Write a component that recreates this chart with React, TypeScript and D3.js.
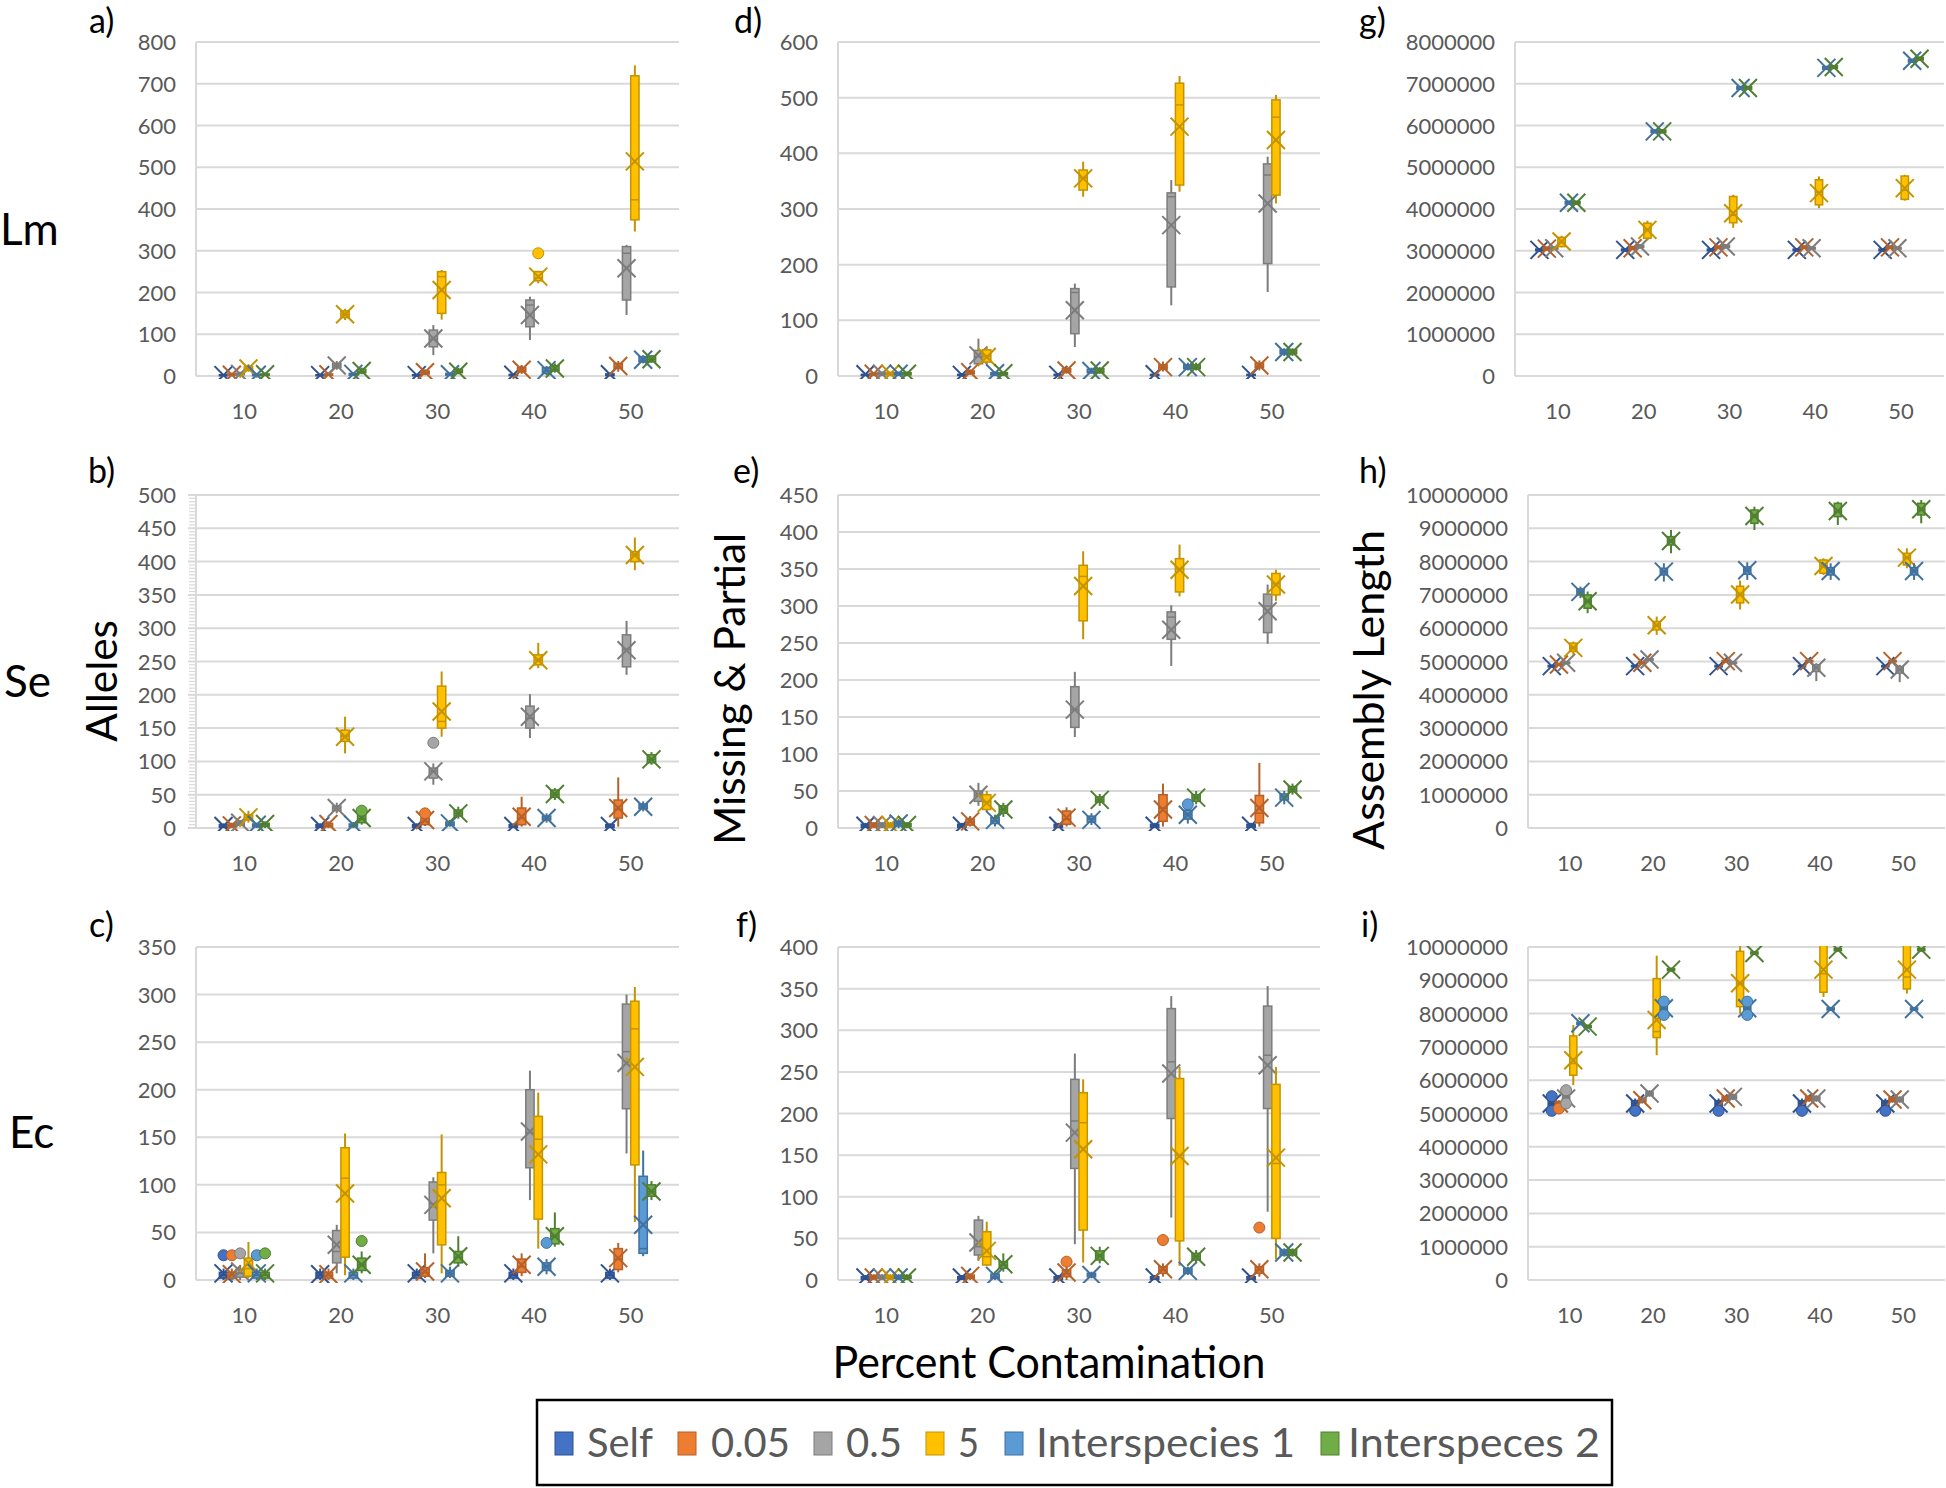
import React from "react";
import * as d3 from "d3";

// [min, q1, median, q3, max, mean]
type Box = [number, number, number, number, number, number];
type Outlier = [number, number, number]; // [seriesIndex, categoryIndex, value]

const categories = ["10", "20", "30", "40", "50"];
const seriesNames = ["Self", "0.05", "0.5", "5", "Interspecies 1", "Interspeces 2"];
const seriesFill = ["#4472C4", "#ED7D31", "#A5A5A5", "#FFC000", "#5B9BD5", "#70AD47"];
const seriesStroke = ["#2F528F", "#B4612A", "#7C7C7C", "#C49300", "#41719C", "#507E32"];

const ticksA = [0, 100, 200, 300, 400, 500, 600, 700, 800];
const ticksB = [0, 50, 100, 150, 200, 250, 300, 350, 400, 450, 500];
const ticksC = [0, 50, 100, 150, 200, 250, 300, 350];
const ticksD = [0, 100, 200, 300, 400, 500, 600];
const ticksE = [0, 50, 100, 150, 200, 250, 300, 350, 400, 450];
const ticksF = [0, 50, 100, 150, 200, 250, 300, 350, 400];
const ticksG = [0, 1000000, 2000000, 3000000, 4000000, 5000000, 6000000, 7000000, 8000000];
const ticksH = [0, 1000000, 2000000, 3000000, 4000000, 5000000, 6000000, 7000000, 8000000, 9000000, 10000000];
const ticksI = [0, 1000000, 2000000, 3000000, 4000000, 5000000, 6000000, 7000000, 8000000, 9000000, 10000000];

// a) Lm – Alleles
const lmAlleles: Box[][] = [
  [[0,1,2,3,5,2],[0,1,2,3,5,2],[0,1,2,3,5,2],[0,1,2,4,6,3],[0,1,3,5,8,4]],
  [[0,2,3,5,8,3],[0,2,3,5,8,4],[2,5,8,12,16,9],[5,10,14,20,26,15],[10,18,22,30,36,24]],
  [[0,3,5,7,10,5],[15,20,25,30,36,25],[50,70,88,110,122,90],[86,118,170,182,190,146],[146,182,294,310,314,258]],
  [[10,14,18,22,28,18],[134,140,148,156,161,148],[135,150,238,250,254,206],[222,228,235,250,252,238],[346,374,422,719,744,514]],
  [[0,1,3,4,6,3],[0,2,4,6,8,5],[0,2,4,6,8,4],[2,6,12,20,24,14],[30,34,38,46,50,39]],
  [[0,2,3,5,8,4],[4,8,10,16,20,12],[4,8,10,16,20,10],[8,12,16,25,30,18],[32,34,40,48,50,40]],
];
const lmAllelesOut: Outlier[] = [[3, 3, 294]];

// d) Lm – Missing & Partial
const lmMissing: Box[][] = [
  [[0,1,2,3,5,3],[0,1,2,3,5,2],[0,1,2,3,5,2],[0,1,2,3,5,3],[0,1,2,3,5,2]],
  [[0,2,3,5,7,4],[2,4,6,9,12,7],[4,7,10,13,18,10],[8,12,16,20,26,16],[10,15,18,23,28,19]],
  [[0,2,4,6,8,4],[20,22,35,46,67,37],[52,76,150,157,166,118],[127,160,322,329,352,271],[151,202,361,381,394,310]],
  [[0,2,4,6,8,4],[22,25,35,47,52,34],[322,334,356,370,385,355],[331,343,487,526,539,448],[310,325,465,496,505,424]],
  [[0,2,4,6,8,4],[0,2,4,6,8,5],[4,6,8,12,15,9],[10,13,16,20,24,16],[36,40,43,47,50,43]],
  [[0,2,4,6,8,4],[0,2,4,6,8,5],[4,6,9,13,16,10],[10,13,16,20,24,16],[36,40,43,47,50,43]],
];
const lmMissingOut: Outlier[] = [];

// g) Lm – Assembly Length
const lmAssembly: Box[][] = [
  [[2.98e6,3.0e6,3.02e6,3.04e6,3.06e6,3.02e6],[2.98e6,3.0e6,3.02e6,3.04e6,3.06e6,3.02e6],[2.98e6,3.0e6,3.02e6,3.04e6,3.06e6,3.02e6],[2.98e6,3.0e6,3.02e6,3.04e6,3.06e6,3.02e6],[2.98e6,3.0e6,3.02e6,3.04e6,3.06e6,3.02e6]],
  [[3.0e6,3.03e6,3.05e6,3.08e6,3.1e6,3.05e6],[3.02e6,3.04e6,3.06e6,3.09e6,3.12e6,3.06e6],[3.04e6,3.06e6,3.08e6,3.1e6,3.13e6,3.08e6],[3.04e6,3.06e6,3.08e6,3.1e6,3.13e6,3.08e6],[3.04e6,3.06e6,3.08e6,3.1e6,3.13e6,3.08e6]],
  [[3.02e6,3.04e6,3.06e6,3.08e6,3.1e6,3.06e6],[3.05e6,3.08e6,3.1e6,3.13e6,3.16e6,3.1e6],[3.05e6,3.08e6,3.1e6,3.13e6,3.16e6,3.1e6],[3.02e6,3.04e6,3.06e6,3.08e6,3.1e6,3.06e6],[3.02e6,3.04e6,3.06e6,3.08e6,3.1e6,3.06e6]],
  [[3.08e6,3.1e6,3.2e6,3.32e6,3.36e6,3.22e6],[3.25e6,3.3e6,3.5e6,3.66e6,3.72e6,3.5e6],[3.55e6,3.67e6,3.85e6,4.3e6,4.34e6,3.9e6],[4.02e6,4.1e6,4.4e6,4.7e6,4.78e6,4.38e6],[4.2e6,4.23e6,4.45e6,4.79e6,4.82e6,4.5e6]],
  [[4.1e6,4.12e6,4.15e6,4.18e6,4.2e6,4.15e6],[5.81e6,5.83e6,5.86e6,5.89e6,5.91e6,5.86e6],[6.85e6,6.87e6,6.9e6,6.93e6,6.95e6,6.9e6],[7.33e6,7.35e6,7.38e6,7.41e6,7.43e6,7.38e6],[7.5e6,7.52e6,7.55e6,7.58e6,7.6e6,7.55e6]],
  [[4.1e6,4.12e6,4.15e6,4.18e6,4.2e6,4.15e6],[5.81e6,5.83e6,5.86e6,5.89e6,5.91e6,5.86e6],[6.85e6,6.87e6,6.9e6,6.93e6,6.95e6,6.9e6],[7.35e6,7.37e6,7.4e6,7.43e6,7.45e6,7.4e6],[7.55e6,7.57e6,7.6e6,7.63e6,7.65e6,7.6e6]],
];
const lmAssemblyOut: Outlier[] = [];

// b) Se – Alleles
const seAlleles: Box[][] = [
  [[0,1,3,5,7,3],[0,1,3,5,7,3],[0,1,3,5,7,3],[0,1,3,5,7,3],[0,1,3,5,7,3]],
  [[0,2,4,6,8,4],[0,2,4,7,10,6],[3,5,10,15,18,12],[2,5,15,30,47,17],[2,15,28,42,76,30]],
  [[2,4,7,9,12,8],[22,26,30,33,38,30],[65,75,85,90,97,85],[135,150,165,183,201,167],[230,242,268,290,311,267]],
  [[8,12,16,20,26,16],[112,130,138,147,167,137],[137,150,160,213,235,175],[240,245,252,260,278,252],[387,400,410,415,436,410]],
  [[0,2,4,6,8,5],[0,2,4,6,9,5],[2,4,6,9,12,7],[8,12,15,18,22,15],[25,29,32,36,40,32]],
  [[0,3,5,7,10,6],[5,8,14,20,24,15],[14,18,22,27,32,22],[42,46,51,57,60,51],[95,98,103,110,114,103]],
];
const seAllelesOut: Outlier[] = [[1, 2, 22], [2, 2, 128], [5, 1, 26]];

// e) Se – Missing & Partial
const seMissing: Box[][] = [
  [[0,1,3,5,7,3],[0,1,3,5,7,3],[0,1,3,5,7,3],[0,1,3,5,7,3],[0,1,3,5,7,3]],
  [[0,2,4,6,8,4],[2,4,8,12,16,9],[2,5,12,23,28,14],[2,9,27,45,60,25],[2,7,20,44,88,27]],
  [[0,2,4,6,8,4],[30,36,45,50,61,45],[123,136,160,191,211,160],[219,255,285,292,301,268],[249,264,300,316,329,293]],
  [[0,2,4,6,8,4],[22,25,35,45,50,34],[255,280,340,355,374,327],[313,319,350,364,383,349],[307,315,330,344,349,329]],
  [[0,3,6,9,12,6],[2,6,10,14,18,11],[4,8,12,16,20,11],[6,12,18,24,28,18],[32,38,42,46,50,41]],
  [[0,2,4,6,8,4],[15,20,25,30,34,25],[30,35,38,42,46,38],[32,36,41,45,50,41],[45,49,52,56,60,52]],
];
const seMissingOut: Outlier[] = [[4, 3, 32]];

// h) Se – Assembly Length
const seAssembly: Box[][] = [
  [[4.82e6,4.84e6,4.86e6,4.88e6,4.9e6,4.86e6],[4.82e6,4.84e6,4.86e6,4.88e6,4.9e6,4.86e6],[4.82e6,4.84e6,4.86e6,4.88e6,4.9e6,4.86e6],[4.82e6,4.84e6,4.86e6,4.88e6,4.9e6,4.86e6],[4.82e6,4.84e6,4.86e6,4.88e6,4.9e6,4.86e6]],
  [[4.87e6,4.89e6,4.91e6,4.93e6,4.95e6,4.91e6],[4.92e6,4.94e6,4.96e6,4.98e6,5.0e6,4.96e6],[4.97e6,4.99e6,5.01e6,5.03e6,5.05e6,5.01e6],[4.97e6,4.99e6,5.01e6,5.03e6,5.05e6,5.01e6],[4.97e6,4.99e6,5.01e6,5.03e6,5.05e6,5.01e6]],
  [[4.92e6,4.94e6,4.96e6,4.98e6,5.0e6,4.96e6],[5.02e6,5.04e6,5.06e6,5.08e6,5.1e6,5.06e6],[4.92e6,4.94e6,4.96e6,4.98e6,5.0e6,4.96e6],[4.41e6,4.7e6,4.81e6,4.9e6,4.95e6,4.81e6],[4.38e6,4.65e6,4.76e6,4.85e6,4.9e6,4.76e6]],
  [[5.2e6,5.3e6,5.41e6,5.55e6,5.6e6,5.41e6],[5.8e6,5.95e6,6.09e6,6.2e6,6.35e6,6.09e6],[6.56e6,6.76e6,7.0e6,7.26e6,7.43e6,7.01e6],[7.6e6,7.65e6,7.87e6,8.05e6,8.1e6,7.87e6],[7.8e6,7.9e6,8.12e6,8.25e6,8.4e6,8.12e6]],
  [[6.9e6,7.0e6,7.09e6,7.18e6,7.25e6,7.09e6],[7.4e6,7.6e6,7.7e6,7.8e6,7.95e6,7.7e6],[7.45e6,7.62e6,7.74e6,7.84e6,7.98e6,7.74e6],[7.45e6,7.6e6,7.72e6,7.82e6,7.95e6,7.72e6],[7.45e6,7.6e6,7.72e6,7.82e6,7.95e6,7.72e6]],
  [[6.45e6,6.6e6,6.81e6,7.0e6,7.1e6,6.81e6],[8.25e6,8.5e6,8.62e6,8.75e6,8.95e6,8.62e6],[8.95e6,9.15e6,9.37e6,9.55e6,9.65e6,9.37e6],[9.1e6,9.35e6,9.52e6,9.75e6,9.8e6,9.52e6],[9.15e6,9.4e6,9.57e6,9.75e6,9.85e6,9.57e6]],
];
const seAssemblyOut: Outlier[] = [];

// c) Ec – Alleles
const ecAlleles: Box[][] = [
  [[0,2,5,8,12,7],[0,2,5,8,12,6],[0,2,5,8,12,7],[0,2,5,8,12,7],[0,2,5,8,12,7]],
  [[0,2,5,8,12,6],[0,2,5,8,12,6],[2,4,8,13,28,9],[4,8,14,22,28,16],[8,11,22,33,39,23]],
  [[0,3,7,11,15,9],[7,18,30,52,58,37],[28,63,80,103,108,79],[84,118,155,200,220,156],[133,180,240,290,300,228]],
  [[2,4,12,23,40,18],[5,24,107,139,154,91],[7,37,100,113,153,86],[33,64,148,172,197,132],[61,121,264,293,308,224]],
  [[0,2,5,8,12,7],[0,2,5,8,12,7],[2,4,7,10,14,7],[6,10,14,18,22,14],[25,28,33,109,136,58]],
  [[0,2,5,8,12,7],[7,10,16,23,30,16],[14,18,24,30,46,25],[35,38,46,54,71,46],[84,88,93,100,104,93]],
];
const ecAllelesOut: Outlier[] = [[0, 0, 26], [1, 0, 26], [2, 0, 28], [4, 0, 26], [5, 0, 28], [5, 1, 41], [4, 3, 39]];

// f) Ec – Missing & Partial
const ecMissing: Box[][] = [
  [[0,1,2,4,6,3],[0,1,2,4,6,3],[0,1,2,4,6,3],[0,1,2,4,6,3],[0,1,2,4,6,3]],
  [[0,2,3,5,7,3],[0,2,4,6,8,5],[0,4,8,12,16,9],[4,8,12,16,20,13],[4,8,12,16,20,13]],
  [[0,2,3,5,7,3],[23,30,40,72,77,45],[43,134,191,241,272,177],[75,194,262,326,341,248],[82,206,270,329,353,258]],
  [[0,2,3,5,7,3],[17,18,28,58,70,35],[21,60,189,225,241,157],[17,47,150,242,256,149],[25,50,140,235,256,147]],
  [[0,2,3,5,7,3],[0,2,4,7,10,5],[2,4,6,8,10,6],[6,8,11,14,16,11],[28,30,33,36,38,33]],
  [[0,2,3,5,7,3],[10,14,18,22,32,19],[20,24,29,35,40,29],[20,24,28,32,36,28],[28,30,33,36,38,33]],
];
const ecMissingOut: Outlier[] = [[1, 2, 22], [1, 3, 48], [1, 4, 63]];

// i) Ec – Assembly Length
const ecAssembly: Box[][] = [
  [[5.15e6,5.22e6,5.3e6,5.38e6,5.45e6,5.3e6],[5.15e6,5.22e6,5.3e6,5.38e6,5.45e6,5.3e6],[5.15e6,5.22e6,5.3e6,5.38e6,5.45e6,5.3e6],[5.15e6,5.22e6,5.3e6,5.38e6,5.45e6,5.3e6],[5.15e6,5.22e6,5.3e6,5.38e6,5.45e6,5.3e6]],
  [[5.2e6,5.25e6,5.3e6,5.35e6,5.4e6,5.3e6],[5.3e6,5.35e6,5.4e6,5.45e6,5.5e6,5.4e6],[5.35e6,5.4e6,5.45e6,5.5e6,5.55e6,5.45e6],[5.35e6,5.4e6,5.45e6,5.5e6,5.55e6,5.45e6],[5.32e6,5.37e6,5.42e6,5.47e6,5.52e6,5.42e6]],
  [[5.35e6,5.4e6,5.45e6,5.5e6,5.55e6,5.45e6],[5.5e6,5.55e6,5.6e6,5.65e6,5.7e6,5.6e6],[5.4e6,5.45e6,5.5e6,5.55e6,5.6e6,5.5e6],[5.35e6,5.4e6,5.45e6,5.5e6,5.55e6,5.45e6],[5.32e6,5.37e6,5.42e6,5.47e6,5.52e6,5.42e6]],
  [[5.85e6,6.15e6,6.5e6,7.33e6,7.66e6,6.6e6],[6.75e6,7.28e6,7.46e6,9.05e6,9.74e6,7.81e6],[8.0e6,8.21e6,8.9e6,9.87e6,10.3e6,8.91e6],[8.5e6,8.64e6,9.2e6,10.2e6,10.5e6,9.32e6],[8.6e6,8.74e6,9.1e6,10.2e6,10.5e6,9.32e6]],
  [[7.65e6,7.68e6,7.71e6,7.74e6,7.77e6,7.71e6],[8.05e6,8.1e6,8.16e6,8.22e6,8.27e6,8.16e6],[8.05e6,8.1e6,8.16e6,8.22e6,8.27e6,8.16e6],[8.08e6,8.11e6,8.14e6,8.17e6,8.2e6,8.14e6],[8.08e6,8.11e6,8.14e6,8.17e6,8.2e6,8.14e6]],
  [[7.55e6,7.58e6,7.61e6,7.64e6,7.67e6,7.61e6],[9.26e6,9.29e6,9.32e6,9.35e6,9.38e6,9.32e6],[9.76e6,9.79e6,9.82e6,9.85e6,9.88e6,9.82e6],[9.86e6,9.89e6,9.92e6,9.95e6,9.98e6,9.92e6],[9.86e6,9.89e6,9.92e6,9.95e6,9.98e6,9.92e6]],
];
const ecAssemblyOut: Outlier[] = [
  [0, 0, 5.08e6], [0, 0, 5.52e6], [0, 1, 5.08e6], [0, 2, 5.08e6], [0, 3, 5.08e6], [0, 4, 5.08e6],
  [1, 0, 5.15e6], [2, 0, 5.7e6], [2, 0, 5.3e6],
  [4, 1, 8.36e6], [4, 1, 7.96e6], [4, 2, 8.36e6], [4, 2, 7.96e6],
];

const FONT = "Lato, 'Open Sans', 'DejaVu Sans', sans-serif";
const AXIS_GRAY = "#595959";
const GRID = "#D9D9D9";

type PanelSpec = {
  id: string;
  letter: string;
  lx: number;
  ly: number;
  left: number;
  right: number;
  top: number;
  zero: number;
  ticks: number[];
  data: Box[][];
  outliers: Outlier[];
  minor?: boolean;
};

const COL1 = { left: 196, right: 679 };
const COL2 = { left: 838, right: 1320 };
const ROW1 = { top: 42, zero: 376 };
const ROW2 = { top: 495, zero: 828 };
const ROW3 = { top: 947, zero: 1280 };

const panels: PanelSpec[] = [
  { id: "a", letter: "a)", lx: 89, ly: 33, ...COL1, ...ROW1, ticks: ticksA, data: lmAlleles, outliers: lmAllelesOut },
  { id: "b", letter: "b)", lx: 88, ly: 483, ...COL1, ...ROW2, ticks: ticksB, data: seAlleles, outliers: seAllelesOut, minor: true },
  { id: "c", letter: "c)", lx: 89, ly: 937, ...COL1, ...ROW3, ticks: ticksC, data: ecAlleles, outliers: ecAllelesOut },
  { id: "d", letter: "d)", lx: 734, ly: 33, ...COL2, ...ROW1, ticks: ticksD, data: lmMissing, outliers: lmMissingOut },
  { id: "e", letter: "e)", lx: 733, ly: 483, ...COL2, ...ROW2, ticks: ticksE, data: seMissing, outliers: seMissingOut },
  { id: "f", letter: "f)", lx: 736, ly: 937, ...COL2, ...ROW3, ticks: ticksF, data: ecMissing, outliers: ecMissingOut },
  { id: "g", letter: "g)", lx: 1359, ly: 33, left: 1515, right: 1944, ...ROW1, ticks: ticksG, data: lmAssembly, outliers: lmAssemblyOut },
  { id: "h", letter: "h)", lx: 1359, ly: 483, left: 1528, right: 1945, ...ROW2, ticks: ticksH, data: seAssembly, outliers: seAssemblyOut },
  { id: "i", letter: "i)", lx: 1361, ly: 937, left: 1528, right: 1945, ...ROW3, ticks: ticksI, data: ecAssembly, outliers: ecAssemblyOut },
];

function Panel({ p }: { p: PanelSpec }) {
  const x = d3.scaleBand<string>().domain(categories).range([p.left, p.right]).paddingInner(0).paddingOuter(0);
  const yMax = p.ticks[p.ticks.length - 1];
  const y = d3.scaleLinear().domain([0, yMax]).range([p.zero, p.top]);
  const bw = x.bandwidth();
  const step = bw * 0.086;
  const boxW = step;
  const fmt = d3.format("d");
  const clipId = `clip-${p.id}`;
  const cx = (si: number, ci: number) => (x(categories[ci]) as number) + bw / 2 + (si - 2.5) * step;
  const minorTicks = p.minor ? d3.range(0, yMax + 0.001, 5) : [];
  const M = 9;

  return (
    <g>
      <defs>
        <clipPath id={clipId}>
          <rect x={p.left - 10} y={p.top - 1} width={p.right - p.left + 20} height={p.zero - p.top + 4} />
        </clipPath>
      </defs>
      {minorTicks.map((t) => (
        <line key={`m${t}`} x1={p.left - 7} x2={p.left} y1={y(t)} y2={y(t)} stroke={GRID} strokeWidth={1.2} />
      ))}
      {p.ticks.map((t) => (
        <line key={`g${t}`} x1={p.left - (p.minor ? 8 : 0)} x2={p.right} y1={y(t)} y2={y(t)} stroke={GRID} strokeWidth={2} />
      ))}
      <line x1={p.left} x2={p.left} y1={p.top} y2={p.zero} stroke={GRID} strokeWidth={2} />
      {p.ticks.map((t) => (
        <text key={`t${t}`} x={p.left - 20} y={y(t) + 8} textAnchor="end" fontSize={22} fill={AXIS_GRAY} fontFamily={FONT}>
          {fmt(t)}
        </text>
      ))}
      {categories.map((c) => (
        <text key={`c${c}`} x={(x(c) as number) + bw / 2} y={p.zero + 43} textAnchor="middle" fontSize={22} fill={AXIS_GRAY} fontFamily={FONT}>
          {c}
        </text>
      ))}
      <text x={p.lx} y={p.ly} fontSize={34} fill="#000" fontFamily={FONT}>
        {p.letter}
      </text>
      <g clipPath={`url(#${clipId})`}>
        {p.data.map((series, si) =>
          series.map((b, ci) => {
            const [mn, q1, md, q3, mx, mean] = b;
            const c = cx(si, ci);
            const ym = y(mean);
            return (
              <g key={`b${si}-${ci}`}>
                <line x1={c} x2={c} y1={y(mn)} y2={y(mx)} stroke={seriesStroke[si]} strokeWidth={2} />
                <rect
                  x={c - boxW / 2}
                  y={y(q3)}
                  width={boxW}
                  height={Math.max(1, y(q1) - y(q3))}
                  fill={seriesFill[si]}
                  stroke={seriesStroke[si]}
                  strokeWidth={1.5}
                />
                <line x1={c - boxW / 2} x2={c + boxW / 2} y1={y(md)} y2={y(md)} stroke={seriesStroke[si]} strokeWidth={1.5} />
                <line x1={c - M} x2={c + M} y1={ym - M} y2={ym + M} stroke={seriesStroke[si]} strokeWidth={2} />
                <line x1={c - M} x2={c + M} y1={ym + M} y2={ym - M} stroke={seriesStroke[si]} strokeWidth={2} />
              </g>
            );
          })
        )}
        {p.outliers.map(([si, ci, v], k) => (
          <circle key={`o${k}`} cx={cx(si, ci)} cy={y(v)} r={5.5} fill={seriesFill[si]} stroke={seriesStroke[si]} strokeWidth={1} />
        ))}
      </g>
    </g>
  );
}

const legendSquareX = [555, 678, 814, 926, 1005, 1321];
const legendTextX = [587, 711, 846, 958, 1036, 1348];
const legendTextW = [66, 79, 56, 21, 259, 252];

export default function App() {
  return (
    <svg
      width={1946}
      height={1488}
      viewBox="0 0 1946 1488"
      style={{ position: "absolute", left: 0, top: 0, background: "#fff" }}
    >
      <rect x={0} y={0} width={1946} height={1488} fill="#fff" />
      {panels.map((p) => (
        <Panel key={p.id} p={p} />
      ))}

      {/* row labels */}
      <text x={0} y={245} fontSize={44} fontFamily={FONT} fill="#000">Lm</text>
      <text x={4} y={697} fontSize={44} fontFamily={FONT} fill="#000">Se</text>
      <text x={9} y={1148} fontSize={44} fontFamily={FONT} fill="#000">Ec</text>

      {/* y-axis titles */}
      <text transform="translate(117,681) rotate(-90)" textAnchor="middle" fontSize={42} fontFamily={FONT} fill="#000"
        textLength={122} lengthAdjust="spacingAndGlyphs">Alleles</text>
      <text transform="translate(745,689) rotate(-90)" textAnchor="middle" fontSize={42} fontFamily={FONT} fill="#000"
        textLength={312} lengthAdjust="spacingAndGlyphs">Missing &amp; Partial</text>
      <text transform="translate(1384,690) rotate(-90)" textAnchor="middle" fontSize={42} fontFamily={FONT} fill="#000"
        textLength={320} lengthAdjust="spacingAndGlyphs">Assembly Length</text>

      {/* x-axis title */}
      <text x={1049} y={1378} textAnchor="middle" fontSize={44} fontFamily={FONT} fill="#000"
        textLength={433} lengthAdjust="spacingAndGlyphs">Percent Contamination</text>

      {/* legend */}
      <rect x={537} y={1400} width={1075} height={85} fill="#fff" stroke="#000" strokeWidth={2.5} />
      {seriesNames.map((n, i) => (
        <g key={n}>
          <rect x={legendSquareX[i]} y={1432} width={18} height={23} fill={seriesFill[i]} stroke={seriesStroke[i]} strokeWidth={1} />
          <text x={legendTextX[i]} y={1457} fontSize={40} fontFamily={FONT} fill={AXIS_GRAY}
            textLength={legendTextW[i]} lengthAdjust="spacingAndGlyphs">{n}</text>
        </g>
      ))}
    </svg>
  );
}
